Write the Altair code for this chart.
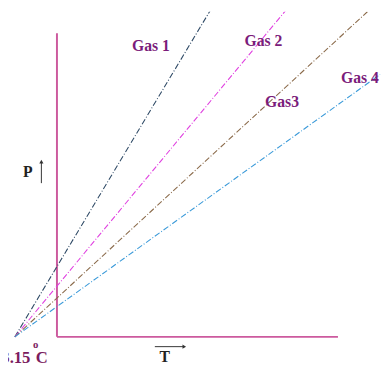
import altair as alt
import pandas as pd

# --- data ---
gases = ["Gas 1", "Gas 2", "Gas3", "Gas 4"]
t_zero = -273.15                      # common intercept (absolute zero, °C)
t_end = [997, 1493, 2014, 2096]       # T at the upper end of each line
p_end = [334, 335, 332, 268]          # P at the upper end of each line
line_colors = ["#2f4a66", "#e040e0", "#8b6b4b", "#3a9ad9"]
label_t = [610, 1340, 1460, 1966]
label_p = [297, 302, 240, 264]

axis_top_p = 310       # top of the vertical (P) axis line
axis_right_t = 1823    # right end of the horizontal (T) axis line

rows = []
for g, te, pe in zip(gases, t_end, p_end):
    rows.append({"gas": g, "T": t_zero, "P": 0})
    rows.append({"gas": g, "T": te, "P": pe})
lines_df = pd.DataFrame(rows)

labels_df = pd.DataFrame({"gas": gases, "T": label_t, "P": label_p})

axes_df = pd.DataFrame({
    "T": [0, 0], "P": [0, 0],
    "T2": [0, axis_right_t], "P2": [axis_top_p, 0],
})

xs = alt.Scale(domain=[-317.6, 2121.7], nice=False, zero=False)
ys = alt.Scale(domain=[-30, 332], nice=False, zero=False)

X = alt.X("T:Q", scale=xs, axis=None)
Y = alt.Y("P:Q", scale=ys, axis=None)

SERIF = "'Liberation Serif', 'DejaVu Serif', serif"

axes = alt.Chart(axes_df).mark_rule(color="#cc5a9e", strokeWidth=2).encode(
    x=X, y=Y, x2="T2:Q", y2="P2:Q"
)

lines = alt.Chart(lines_df).mark_line(strokeDash=[6, 2, 1, 2], strokeWidth=1.1, clip=True).encode(
    x=X, y=Y,
    color=alt.Color("gas:N", scale=alt.Scale(domain=gases, range=line_colors), legend=None),
    detail="gas:N",
)

labels = alt.Chart(labels_df).mark_text(
    font=SERIF, fontWeight="bold", fontSize=16, color="#7b1c7b", baseline="middle"
).encode(x=X, y=Y, text="gas:N")

# axis titles and arrows
p_lab = pd.DataFrame({"T": [-190], "P": [168], "t": ["P"]})
t_lab = pd.DataFrame({"T": [699], "P": [-21], "t": ["T"]})
ptxt = alt.Chart(p_lab).mark_text(font=SERIF, fontWeight="bold", fontSize=16,
                                  color="#222222", baseline="middle").encode(x=X, y=Y, text="t:N")
ttxt = alt.Chart(t_lab).mark_text(font=SERIF, fontWeight="bold", fontSize=16,
                                  color="#222222", baseline="middle").encode(x=X, y=Y, text="t:N")

arrows_df = pd.DataFrame({"T": [-101, 635], "P": [157, -10], "T2": [-101, 820], "P2": [178, -10]})
arrows = alt.Chart(arrows_df).mark_rule(color="#333333", strokeWidth=1).encode(
    x=X, y=Y, x2="T2:Q", y2="P2:Q")
heads_df = pd.DataFrame({"T": [-101, 826], "P": [179, -10], "s": ["triangle-up", "triangle-right"]})
heads = alt.Chart(heads_df).mark_point(filled=True, size=18, color="#333333", opacity=1).encode(
    x=X, y=Y, shape=alt.Shape("s:N", scale=None, legend=None))

# -273.15 °C label
zero_df = pd.DataFrame({"T": [-172], "P": [-27], "t": ["-273.15"]})
deg_df = pd.DataFrame({"T": [-156], "P": [-11], "t": ["o"]})
c_df = pd.DataFrame({"T": [-138], "P": [-27], "t": ["C"]})
tstyle = dict(font=SERIF, fontWeight="bold", color="#7b1c5e", baseline="alphabetic")
ztxt = alt.Chart(zero_df).mark_text(fontSize=17, align="right", **tstyle).encode(x=X, y=Y, text="t:N")
dtxt = alt.Chart(deg_df).mark_text(fontSize=11, align="left", **tstyle).encode(x=X, y=Y, text="t:N")
ctxt = alt.Chart(c_df).mark_text(fontSize=17, align="left", **tstyle).encode(x=X, y=Y, text="t:N")

chart = alt.layer(axes, lines, labels, ptxt, ttxt, arrows, heads, ztxt, dtxt, ctxt).properties(
    width=384, height=362, padding=0, autosize="none", background="white"
).configure_view(strokeWidth=0)

chart.save("out.html", embed_options={"renderer": "svg", "actions": False})
